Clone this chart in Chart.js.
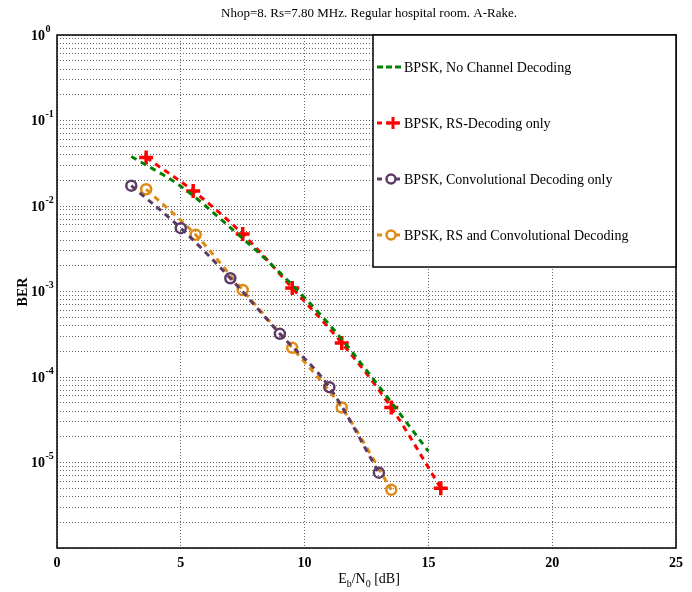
<!DOCTYPE html>
<html>
<head>
<meta charset="utf-8">
<script src="https://cdn.jsdelivr.net/npm/chart.js@4/dist/chart.umd.min.js"></script>
<style>
  html, body { margin: 0; padding: 0; background: #fff; }
  canvas { display: block; }
</style>
</head>
<body>
<canvas id="berChart" width="692" height="592"></canvas>
<script>
// values
var ebnoNoCoding = [3, 5, 7, 9, 11, 13, 15];
var berNoCoding = [0.038, 0.017, 0.0056, 0.00166, 0.00041, 0.000078, 0.0000135];

var ebnoRs = [3.6, 5.5, 7.5, 9.5, 11.5, 13.5, 15.5];
var berRs = [0.037, 0.015, 0.0047, 0.0011, 0.00025, 0.000044, 0.000005];

var ebnoConv = [3, 5, 7, 9, 11, 13];
var berConv = [0.0173, 0.0055, 0.00143, 0.00032, 0.000076, 0.0000076];

var ebnoRsConv = [3.6, 5.6, 7.5, 9.5, 11.5, 13.5];
var berRsConv = [0.0157, 0.0046, 0.00104, 0.00022, 0.000044, 0.0000048];

var seriesLabels = [
    'BPSK, No Channel Decoding',
    'BPSK, RS-Decoding only',
    'BPSK, Convolutional Decoding only',
    'BPSK, RS and Convolutional Decoding'
];
var xTickValues = [0, 5, 10, 15, 20, 25];
var yTickExponents = [0, -1, -2, -3, -4, -5];
var titleText = 'Nhop=8. Rs=7.80 MHz. Regular hospital room. A-Rake.';

function pairs(xs, ys) {
    return xs.map(function (v, i) { return { x: v, y: ys[i] }; });
}

var serif = "'Liberation Serif', 'Times New Roman', serif";

// draws the frame, tick labels, axis titles and the boxed legend
var decorations = {
    id: 'decorations',
    afterDraw: function (chart) {
        var ctx = chart.ctx;
        var area = chart.chartArea;
        var xs = chart.scales.x;
        var ys = chart.scales.y;

        ctx.save();
        ctx.fillStyle = '#000';
        ctx.strokeStyle = '#000';

        // title
        ctx.font = '13px ' + serif;
        ctx.textAlign = 'center';
        ctx.textBaseline = 'middle';
        ctx.fillText(titleText, 369, 14);

        // x tick labels
        ctx.font = 'bold 14px ' + serif;
        ctx.textBaseline = 'top';
        xTickValues.forEach(function (v) {
            ctx.fillText(String(v), xs.getPixelForValue(v), area.bottom + 8);
        });

        // y tick labels as 10^k
        yTickExponents.forEach(function (e) {
            var py = ys.getPixelForValue(Math.pow(10, e));
            ctx.font = 'bold 14px ' + serif;
            ctx.textAlign = 'right';
            ctx.textBaseline = 'middle';
            ctx.fillText('10', 45, py + 1);
            ctx.font = 'bold 10px ' + serif;
            ctx.textAlign = 'left';
            ctx.fillText(e === 0 ? '0' : '-' + Math.abs(e), 45.5, py - 6);
        });

        // y axis title
        ctx.save();
        ctx.translate(23, 292);
        ctx.rotate(-Math.PI / 2);
        ctx.font = 'bold 14px ' + serif;
        ctx.textAlign = 'center';
        ctx.textBaseline = 'middle';
        ctx.fillText('BER', 0, 0);
        ctx.restore();

        // x axis title  E_b/N_0 [dB]
        var parts = [
            ['E', 14, 0], ['b', 10, 4], ['/N', 14, 0], ['0', 10, 4], [' [dB]', 14, 0]
        ];
        var total = 0;
        parts.forEach(function (p) {
            ctx.font = p[1] + 'px ' + serif;
            total += ctx.measureText(p[0]).width;
        });
        var cx = 369 - total / 2;
        ctx.textAlign = 'left';
        ctx.textBaseline = 'alphabetic';
        parts.forEach(function (p) {
            ctx.font = p[1] + 'px ' + serif;
            ctx.fillText(p[0], cx, 583 + p[2]);
            cx += ctx.measureText(p[0]).width;
        });

        // frame
        ctx.lineWidth = 1.5;
        ctx.strokeRect(area.left, area.top, area.right - area.left, area.bottom - area.top);

        // legend box
        var lx = 373, ly = area.top, lw = area.right - 373, lh = 232;
        ctx.fillStyle = '#fff';
        ctx.fillRect(lx, ly, lw, lh);
        ctx.strokeRect(lx, ly, lw, lh);

        var rowY = [67, 123, 179, 235];
        chart.data.datasets.forEach(function (ds, i) {
            var y = rowY[i];
            ctx.save();
            ctx.strokeStyle = ds.borderColor;
            ctx.lineWidth = 3;
            ctx.setLineDash(i === 0 ? [6, 3] : [5, 4]);
            ctx.beginPath();
            ctx.moveTo(377, y);
            ctx.lineTo(401, y);
            ctx.stroke();
            ctx.setLineDash([]);
            if (ds.pointStyle === 'cross') {
                ctx.lineWidth = 3;
                ctx.beginPath();
                ctx.moveTo(393 - 6, y); ctx.lineTo(393 + 6, y);
                ctx.moveTo(393, y - 6); ctx.lineTo(393, y + 6);
                ctx.stroke();
            } else if (ds.pointRadius > 0) {
                ctx.lineWidth = 2.5;
                ctx.fillStyle = '#fff';
                ctx.beginPath();
                ctx.arc(391, y, 4.5, 0, Math.PI * 2);
                ctx.fill();
                ctx.stroke();
            }
            ctx.restore();
            ctx.fillStyle = '#000';
            ctx.font = '14px ' + serif;
            ctx.textAlign = 'left';
            ctx.textBaseline = 'middle';
            ctx.fillText(ds.label, 404, y + 1);
        });

        ctx.restore();
    }
};

var ctx = document.getElementById('berChart').getContext('2d');
var berChart = new Chart(ctx, {
    type: 'line',
    data: {
        datasets: [{
            label: seriesLabels[0],
            data: pairs(ebnoNoCoding, berNoCoding),
            borderColor: '#008000',
            borderWidth: 3,
            borderDash: [6, 5],
            pointRadius: 0,
            fill: false,
            cubicInterpolationMode: 'monotone'
        }, {
            label: seriesLabels[1],
            data: pairs(ebnoRs, berRs),
            borderColor: '#ff0000',
            backgroundColor: '#ff0000',
            borderWidth: 3,
            borderDash: [6, 5],
            pointStyle: 'cross',
            pointRadius: 7,
            pointBorderWidth: 3.5,
            fill: false,
            cubicInterpolationMode: 'monotone'
        }, {
            label: seriesLabels[2],
            data: pairs(ebnoConv, berConv),
            borderColor: '#5c3c66',
            backgroundColor: 'rgba(255,255,255,0)',
            borderWidth: 3,
            borderDash: [6, 5],
            pointStyle: 'circle',
            pointRadius: 5,
            pointBorderWidth: 2.5,
            fill: false,
            cubicInterpolationMode: 'monotone'
        }, {
            label: seriesLabels[3],
            data: pairs(ebnoRsConv, berRsConv),
            borderColor: '#df8a14',
            backgroundColor: 'rgba(255,255,255,0)',
            borderWidth: 3,
            borderDash: [6, 5],
            pointStyle: 'circle',
            pointRadius: 5,
            pointBorderWidth: 2.5,
            fill: false,
            cubicInterpolationMode: 'monotone'
        }]
    },
    options: {
        responsive: false,
        animation: false,
        devicePixelRatio: 1,
        layout: { padding: { left: 57, right: 16, top: 35, bottom: 44 } },
        plugins: {
            legend: { display: false },
            title: { display: false },
            tooltip: { enabled: false }
        },
        scales: {
            x: {
                type: 'linear',
                min: 0,
                max: 25,
                ticks: { display: false, stepSize: 5 },
                grid: { color: '#666', lineWidth: 1, drawTicks: false },
                border: { display: false, dash: [1, 2] }
            },
            y: {
                type: 'logarithmic',
                min: 1e-6,
                max: 1,
                ticks: { display: false },
                afterBuildTicks: function (scale) {
                    var t = [];
                    for (var e = -6; e < 0; e++) {
                        for (var m = 1; m <= 9; m++) {
                            t.push({ value: m * Math.pow(10, e) });
                        }
                    }
                    t.push({ value: 1 });
                    scale.ticks = t;
                },
                grid: { color: '#666', lineWidth: 1, drawTicks: false },
                border: { display: false, dash: [1, 2] }
            }
        }
    },
    plugins: [decorations]
});
</script>
</body>
</html>
